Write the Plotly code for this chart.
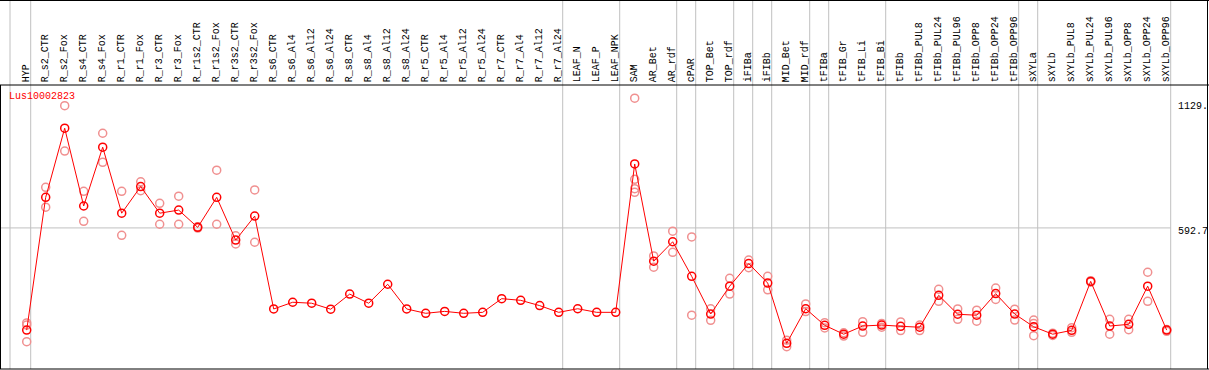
import plotly.graph_objects as go

# ---------------- data ----------------
samples = ["HYP", "R_s2_CTR", "R_s2_Fox", "R_s4_CTR", "R_s4_Fox", "R_r1_CTR", "R_r1_Fox",
           "R_r3_CTR", "R_r3_Fox", "R_r1s2_CTR", "R_r1s2_Fox", "R_r3s2_CTR", "R_r3s2_Fox",
           "R_s6_CTR", "R_s6_Al4", "R_s6_Al12", "R_s6_Al24", "R_s8_CTR", "R_s8_Al4",
           "R_s8_Al12", "R_s8_Al24", "R_r5_CTR", "R_r5_Al4", "R_r5_Al12", "R_r5_Al24",
           "R_r7_CTR", "R_r7_Al4", "R_r7_Al12", "R_r7_Al24", "LEAF_N", "LEAF_P", "LEAF_NPK",
           "SAM", "AR_Bet", "AR_rdf", "cPAR", "TOP_Bet", "TOP_rdf", "iFIBa", "iFIBb",
           "MID_Bet", "MID_rdf", "tFIBa", "tFIB_Gr", "tFIB_Li", "tFIB_Bi", "tFIBb",
           "tFIBb_PUL8", "tFIBb_PUL24", "tFIBb_PUL96", "tFIBb_OPP8", "tFIBb_OPP24",
           "tFIBb_OPP96", "sXYLa", "sXYLb", "sXYLb_PUL8", "sXYLb_PUL24", "sXYLb_PUL96",
           "sXYLb_OPP8", "sXYLb_OPP24", "sXYLb_OPP96"]

means = [167, 720, 1008, 684, 929, 654, 765, 654, 667, 595, 720, 542, 642,
         255, 283, 279, 254, 317, 279, 358, 255, 237, 245, 237, 241,
         298, 291, 269, 241, 256, 241, 241,
         859, 454, 535, 391, 234, 350, 444, 363, 112, 256,
         187, 150, 184, 188, 183, 179, 312, 233, 229, 319, 234,
         181, 150, 166, 370, 184, 191, 350, 167]

replicates = [
    [197, 188, 119], [762, 679], [1102, 913], [745, 620], [987, 866], [745, 562],
    [785, 748], [695, 608], [725, 608], [598, 592], [833, 608], [560, 526], [751, 533],
    [], [], [], [], [], [], [], [], [], [], [], [], [], [], [], [], [], [], [],
    [1133, 795, 756, 741], [476, 429], [579, 491], [555, 229], [256, 208], [383, 317],
    [459, 427], [391, 335], [125, 98], [276, 244],
    [198, 176], [156, 142], [202, 158], [195, 179], [201, 165], [188, 165], [337, 287],
    [255, 212], [250, 204], [342, 295], [254, 209],
    [209, 195, 144], [154, 145], [177, 158], [373, 367], [212, 150], [212, 169],
    [408, 287], [170, 162],
]

group_ends = ["HYP", "R_r7_Al24", "LEAF_NPK", "AR_rdf", "cPAR", "TOP_rdf", "iFIBa",
              "iFIBb", "MID_rdf", "tFIBa", "tFIB_Bi", "tFIBb_OPP96", "sXYLa", "sXYLb_OPP96"]

y_tick_values = [1129, 592.7, 0]
y_tick_labels = ["1129.", "592.7", "0"]
gene = "Lus10002823"

# ---------------- geometry ----------------
W, H = 1209, 370
X0, DX = 26.7, 19.0           # pixel of first category, pixel step
PLOT_TOP, PLOT_BOT = 85, 369  # pixel rows of plot area
Y_MIN, Y_MAX = 5, 1188

def px_to_x(px):
    return (px - X0) / DX

def py_to_paper(py):
    return 1 - py / H

idx = list(range(len(samples)))
FONT = "Liberation Mono"
PINK = "#f09090"

fig = go.Figure()

rx, ry = [], []
for i, reps in enumerate(replicates):
    for v in reps:
        rx.append(i)
        ry.append(v)

fig.add_trace(go.Scatter(
    x=rx, y=ry, mode="markers",
    marker=dict(symbol="circle-open", size=8, color=PINK, line=dict(width=1.5, color=PINK)),
    hoverinfo="skip", showlegend=False))

fig.add_trace(go.Scatter(
    x=idx, y=means, mode="lines+markers",
    line=dict(color="#ff0000", width=1),
    marker=dict(symbol="circle-open", size=8, color="#ff0000", line=dict(width=1.5, color="#ff0000")),
    hoverinfo="skip", showlegend=False))

shapes = []
gray = "#c0c0c0"
# vertical group separators
sep_x = [px_to_x(10)] + [samples.index(g) + 4 / DX for g in group_ends]
for sx in sep_x:
    shapes.append(dict(type="line", xref="x", yref="paper", x0=sx, x1=sx,
                       y0=py_to_paper(PLOT_BOT), y1=1, line=dict(color=gray, width=1), layer="below"))
# horizontal grid line
shapes.append(dict(type="line", xref="x", yref="y", x0=px_to_x(0), x1=len(samples) - 1 + 4 / DX,
                   y0=y_tick_values[1], y1=y_tick_values[1], line=dict(color=gray, width=1), layer="below"))
# black borders
for py in [0.5, PLOT_TOP, PLOT_BOT]:
    shapes.append(dict(type="line", xref="paper", yref="paper", x0=0, x1=1,
                       y0=py_to_paper(py), y1=py_to_paper(py), line=dict(color="black", width=1)))
shapes.append(dict(type="line", xref="paper", yref="paper", x0=0.5 / W, x1=0.5 / W,
                   y0=py_to_paper(PLOT_BOT), y1=py_to_paper(PLOT_TOP), line=dict(color="black", width=1)))
shapes.append(dict(type="line", xref="paper", yref="paper", x0=1207.5 / W, x1=1207.5 / W,
                   y0=py_to_paper(PLOT_BOT), y1=1, line=dict(color="black", width=1)))

annotations = []
for i, s in enumerate(samples):
    annotations.append(dict(text=s, x=i - 0.02, xref="x", y=py_to_paper(85), yref="paper",
                            textangle=-90, xanchor="center", yanchor="bottom", showarrow=False,
                            font=dict(family=FONT, size=10, color="black"), borderpad=2))
annotations.append(dict(text=gene, x=7 / W, xref="paper", y=py_to_paper(89), yref="paper",
                        xanchor="left", yanchor="top", showarrow=False,
                        font=dict(family=FONT, size=10, color="#ff0000"), borderpad=1))
shifts = [0, 4, -2]
anchors = ["top", "top", "bottom"]
for v, lab, sh, an in zip(y_tick_values, y_tick_labels, shifts, anchors):
    annotations.append(dict(text=lab, x=1176 / W, xref="paper", y=v, yref="y",
                            xanchor="left", yanchor=an, yshift=sh, showarrow=False,
                            font=dict(family=FONT, size=10, color="black"), borderpad=1))

fig.update_layout(
    width=W, height=H, margin=dict(l=0, r=0, t=0, b=0),
    paper_bgcolor="white", plot_bgcolor="white",
    xaxis=dict(range=[px_to_x(0), px_to_x(W)], visible=False, fixedrange=True),
    yaxis=dict(range=[Y_MIN, Y_MAX], domain=[py_to_paper(PLOT_BOT), py_to_paper(PLOT_TOP)],
               visible=False, fixedrange=True),
    shapes=shapes, annotations=annotations, showlegend=False,
)

fig.write_html("out.html", config={"displayModeBar": False},
               post_script="document.body.style.margin='0';document.body.style.overflow='hidden';")
